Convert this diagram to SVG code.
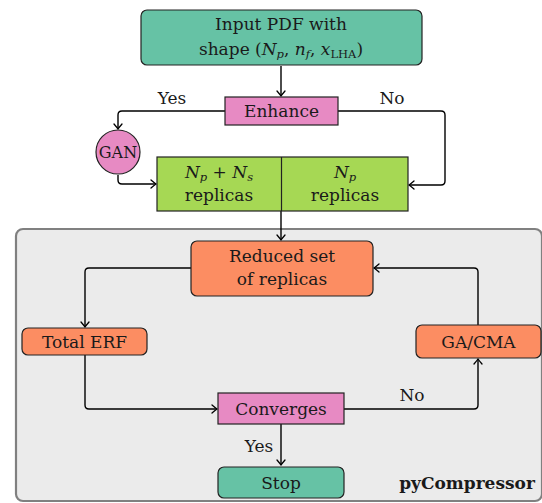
<svg xmlns="http://www.w3.org/2000/svg" width="542" height="503" viewBox="0 0 542 503">
<defs>
<marker id="arr" viewBox="-6 -5 8 10" markerWidth="8" markerHeight="10" refX="0" refY="0" orient="auto" markerUnits="userSpaceOnUse">
<path d="M-5,-4 Q-1.5,-1 0,0 Q-1.5,1 -5,4" fill="none" stroke="#000" stroke-width="1.3" stroke-linecap="round"/>
</marker>
</defs>
<style>
.t{font-family:"DejaVu Serif",serif;font-size:17px;fill:#1a1a1a;text-anchor:middle}
.m{font-style:italic}
.s{font-size:11.5px}
.b{stroke:#222;stroke-width:1.2}
.teal{fill:#66c2a5}
.pink{fill:#e78ac3}
.green{fill:#a6d854}
.orange{fill:#fc8d62}
.c{fill:none;stroke:#000;stroke-width:1.4;marker-end:url(#arr)}
</style>
<rect id="container" x="16" y="229" width="526" height="272" rx="7" fill="#ebebeb" stroke="#808080" stroke-width="2.2"/>
<g id="connectors">
<path class="c" d="M281,66 V96"/>
<path class="c" d="M225,111 H122 Q118,111 118,115 V129"/>
<path class="c" d="M338,111 H441 Q445,111 445,115 V181 Q445,185 441,185 H409"/>
<path class="c" d="M118,175 V180 Q118,184 122,184 H156"/>
<path class="c" d="M281,211 V240"/>
<path class="c" d="M191,268 H89 Q85,268 85,272 V327"/>
<path class="c" d="M85,355 V405 Q85,409 89,409 H217"/>
<path class="c" d="M344,409 H474 Q478,409 478,405 V359"/>
<path class="c" d="M478,325 V272 Q478,268 474,268 H374"/>
<path class="c" d="M281,424 V465"/>
</g>
<g id="input">
<rect class="b teal" x="141" y="10" width="281" height="55" rx="6"/>
<text class="t" x="281" y="30">Input PDF with</text>
<text class="t" x="281" y="55">shape (<tspan class="m">N</tspan><tspan class="m s" dy="3">p</tspan><tspan dy="-3">, </tspan><tspan class="m">n</tspan><tspan class="m s" dy="3">f</tspan><tspan dy="-3">, </tspan><tspan class="m">x</tspan><tspan class="s" dy="3">LHA</tspan><tspan dy="-3">)</tspan></text>
</g>
<g id="enhance">
<rect class="b pink" x="225" y="97" width="113" height="28"/>
<text class="t" x="281.5" y="117">Enhance</text>
</g>
<text class="t" x="172" y="104">Yes</text>
<text class="t" x="392" y="104">No</text>
<g id="gan">
<circle class="b pink" cx="118" cy="152" r="22"/>
<text class="t" x="118" y="158" style="font-size:16px">GAN</text>
</g>
<g id="replicas">
<rect class="b green" x="157" y="157" width="251" height="54"/>
<line x1="281.5" y1="157" x2="281.5" y2="211" stroke="#222" stroke-width="1.2"/>
<text class="t" x="219" y="178"><tspan class="m">N</tspan><tspan class="m s" dy="2.5">p</tspan><tspan dy="-2.5"> + </tspan><tspan class="m">N</tspan><tspan class="m s" dy="2.5">s</tspan></text>
<text class="t" x="219" y="201">replicas</text>
<text class="t" x="345" y="178"><tspan class="m">N</tspan><tspan class="m s" dy="2.5">p</tspan></text>
<text class="t" x="345" y="201">replicas</text>
</g>
<g id="reduced">
<rect class="b orange" x="191" y="241" width="182" height="55" rx="6"/>
<text class="t" x="282" y="262">Reduced set</text>
<text class="t" x="282" y="285">of replicas</text>
</g>
<g id="totalerf">
<rect class="b orange" x="22" y="328" width="125" height="27" rx="6"/>
<text class="t" x="84.5" y="347.5">Total ERF</text>
</g>
<g id="gacma">
<rect class="b orange" x="416" y="325" width="125" height="33" rx="6"/>
<text class="t" x="478.5" y="347.5">GA/CMA</text>
</g>
<g id="converges">
<rect class="b pink" x="218" y="393" width="126" height="31"/>
<text class="t" x="281" y="415">Converges</text>
</g>
<text class="t" x="259" y="452">Yes</text>
<text class="t" x="412" y="401">No</text>
<g id="stop">
<rect class="b teal" x="218" y="467" width="126" height="31" rx="6"/>
<text class="t" x="281" y="488.5">Stop</text>
</g>
<text class="t" x="467" y="488.5" style="font-weight:bold">pyCompressor</text>
</svg>
